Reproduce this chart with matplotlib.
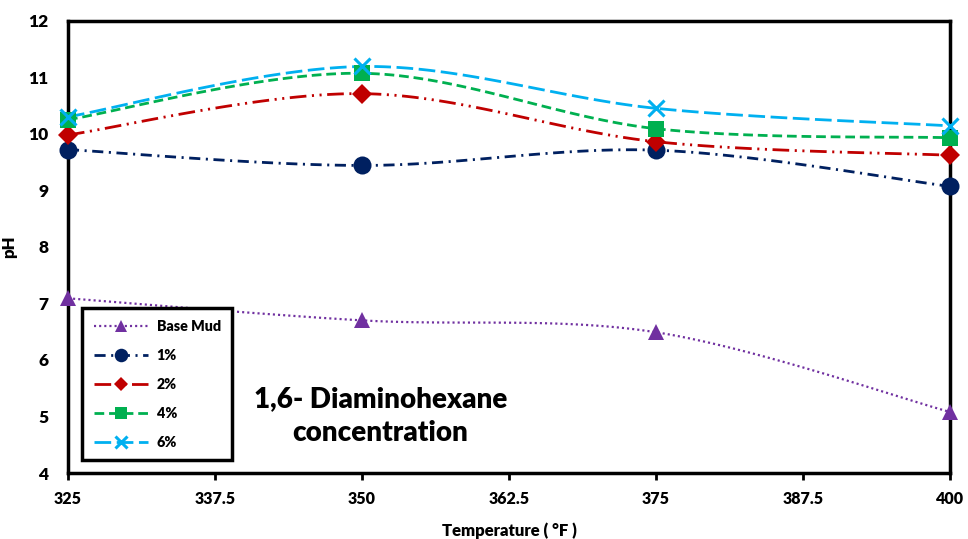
import numpy as np
import matplotlib
matplotlib.use("Agg")
import matplotlib.pyplot as plt
from matplotlib.lines import Line2D

plt.rcParams['font.family'] = ['Lato', 'DejaVu Sans']
plt.rcParams['font.weight'] = 'heavy'
plt.rcParams['lines.scale_dashes'] = False

temps = [325, 350, 375, 400]
base_mud = [7.09, 6.70, 6.49, 5.08]
c1 = [9.72, 9.44, 9.71, 9.07]
c2 = [9.98, 10.71, 9.86, 9.62]
c4 = [10.25, 11.07, 10.09, 9.93]
c6 = [10.30, 11.19, 10.45, 10.14]

xticks = [325, 337.5, 350, 362.5, 375, 387.5, 400]
xticklabels = ['325', '337.5', '350', '362.5', '375', '387.5', '400']
yticks = [4, 5, 6, 7, 8, 9, 10, 11, 12]

W = 'heavy'


def smooth(x, y, n=40):
    x = np.asarray(x, float); y = np.asarray(y, float)
    P = np.column_stack([x, y])
    Pe = np.vstack([P[0], P, P[-1]])
    out = []
    t = np.linspace(0, 1, n)[:, None]
    for i in range(len(P) - 1):
        p0, p1, p2, p3 = Pe[i], Pe[i + 1], Pe[i + 2], Pe[i + 3]
        b0 = p1
        b1 = p1 + (p2 - p0) / 6
        b2 = p2 - (p3 - p1) / 6
        b3 = p2
        seg = ((1 - t) ** 3) * b0 + 3 * ((1 - t) ** 2) * t * b1 + 3 * (1 - t) * t ** 2 * b2 + t ** 3 * b3
        out.append(seg if i == 0 else seg[1:])
    s = np.vstack(out)
    return s[:, 0], s[:, 1]


fig = plt.figure(figsize=(9.68, 5.39), dpi=100)
ax = fig.add_axes([0.0702, 0.1224, 0.9112, 0.8392])

series = [
    ('Base Mud', base_mud, '#7030A0', (0, (1.5, 2.2)), '^', 11, 1.6),
    ('1%', c1, '#002060', (0, (8, 4, 1.5, 4)), 'o', 13, 2.0),
    ('2%', c2, '#C00000', (0, (12, 4, 1.5, 4, 1.5, 4)), 'D', 10, 2.0),
    ('4%', c4, '#00B050', (0, (7, 3.5)), 's', 11, 2.0),
    ('6%', c6, '#00B0F0', (0, (12, 4)), 'x', 12, 2.0),
]

handles = []
for name, vals, col, ls, mk, ms, lw in series:
    sx, sy = smooth(temps, vals)
    ax.plot(sx, sy, color=col, linestyle=ls, linewidth=lw, zorder=2)
    mew = 2.2 if mk == 'x' else 0
    ax.plot(temps, vals, linestyle='none', marker=mk, markersize=ms, color=col,
            markeredgewidth=mew, markeredgecolor=col, zorder=3, clip_on=False)
    handles.append(Line2D([], [], color=col, linestyle=ls, linewidth=lw, marker=mk,
                          markersize=ms * 0.75, markeredgewidth=mew, markeredgecolor=col))

ax.set_xlim(325, 400)
ax.set_ylim(4, 12)
ax.set_xticks(xticks)
ax.set_xticklabels(xticklabels)
ax.set_yticks(yticks)
for sp in ax.spines.values():
    sp.set_linewidth(2.5)
    sp.set_color('black')
ax.tick_params(axis='x', direction='out', length=5, width=2, labelsize=11.5, pad=8)
ax.tick_params(axis='y', length=0, labelsize=12.5, pad=14)
for lab in ax.get_xticklabels() + ax.get_yticklabels():
    lab.set_fontweight(W)

ax.set_xlabel('Temperature ( °F )', fontsize=12, fontweight=W, labelpad=11)
ax.set_ylabel('pH', fontsize=12, fontweight=W, labelpad=8)

leg = ax.legend(handles=handles, labels=[s[0] for s in series], loc='lower left',
                bbox_to_anchor=(0.008, 0.012), frameon=True, fancybox=False, framealpha=1,
                handlelength=3.8, handletextpad=0.6, labelspacing=1.12, borderpad=0.8,
                prop={'weight': W, 'size': 10.3})
leg.get_frame().set_edgecolor('black')
leg.get_frame().set_linewidth(2.5)

ax.text(0.354, 0.06, '1,6- Diaminohexane\nconcentration', transform=ax.transAxes,
        ha='center', va='bottom', fontsize=20, fontweight=W, linespacing=1.35)

fig.savefig('out.png', dpi=100)
